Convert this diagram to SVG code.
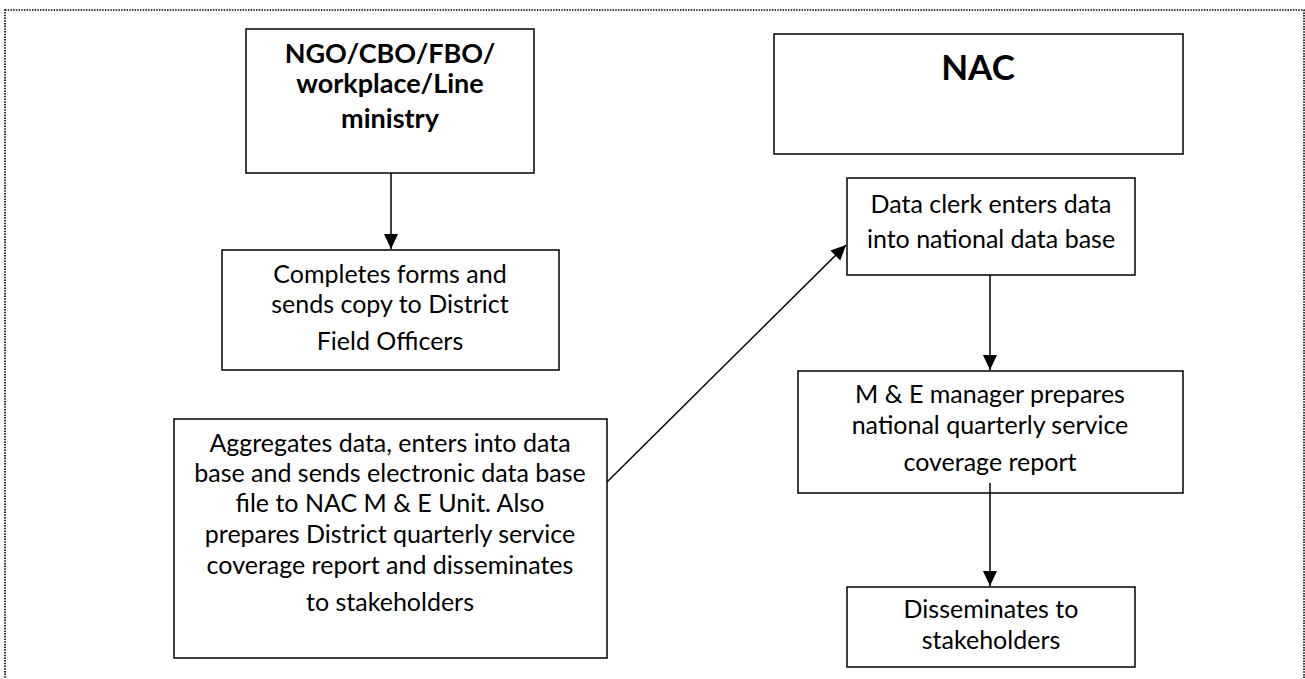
<svg xmlns="http://www.w3.org/2000/svg" width="1305" height="679" viewBox="0 0 1305 679">
<style>
.box{fill:#fff;stroke:#000;stroke-width:1.5}
.t{font-family:Lato,"Open Sans","Liberation Sans",sans-serif;font-size:25px;fill:#000;text-anchor:middle}
.b{font-family:Lato,"Open Sans","Liberation Sans",sans-serif;font-weight:bold;font-size:27px;fill:#000;text-anchor:middle}
.c{stroke:#000;stroke-width:1.5;fill:none;marker-end:url(#ah)}
</style>
<defs>
<marker id="ah" markerUnits="userSpaceOnUse" markerWidth="16" markerHeight="16" viewBox="0 0 16 16" refX="15" refY="8" orient="auto">
<path d="M0,1 L15,8 L0,15 Z" fill="#000"/>
</marker>
</defs>
<rect x="5" y="10" width="1299" height="690" fill="none" stroke="#000" stroke-width="1.6" stroke-dasharray="1.5 1.2"/>
<g id="ngo">
<rect class="box" x="246" y="29" width="288" height="144"/>
<text class="b" x="390" y="63">NGO/CBO/FBO/</text>
<text class="b" x="390" y="93">workplace/Line</text>
<text class="b" x="390" y="128">ministry</text>
</g>
<g id="completes">
<rect class="box" x="222" y="250" width="337" height="120"/>
<text class="t" x="390" y="283">Completes forms and</text>
<text class="t" x="390" y="313">sends copy to District</text>
<text class="t" x="390" y="350">Field Officers</text>
</g>
<g id="aggregates">
<rect class="box" x="174" y="419" width="433" height="239"/>
<text class="t" x="390" y="452">Aggregates data, enters into data</text>
<text class="t" x="390" y="482">base and sends electronic data base</text>
<text class="t" x="390" y="512">file to NAC M &amp; E Unit. Also</text>
<text class="t" x="390" y="543">prepares District quarterly service</text>
<text class="t" x="390" y="574">coverage report and disseminates</text>
<text class="t" x="390" y="611">to stakeholders</text>
</g>
<g id="nac">
<rect class="box" x="774" y="34" width="409" height="120"/>
<text class="b" x="978" y="80" style="font-size:35px">NAC</text>
</g>
<g id="clerk">
<rect class="box" x="847" y="178" width="288" height="97"/>
<text class="t" x="991" y="213">Data clerk enters data</text>
<text class="t" x="991" y="248">into national data base</text>
</g>
<g id="manager">
<rect class="box" x="798" y="371" width="385" height="122"/>
<text class="t" x="990" y="403">M &amp; E manager prepares</text>
<text class="t" x="990" y="434">national quarterly service</text>
<text class="t" x="990" y="471">coverage report</text>
</g>
<g id="disseminate">
<rect class="box" x="847" y="587" width="288" height="80"/>
<text class="t" x="991" y="618">Disseminates to</text>
<text class="t" x="991" y="649">stakeholders</text>
</g>
<g id="connectors">
<line class="c" x1="391" y1="173" x2="391" y2="249"/>
<line class="c" x1="607" y1="482" x2="846" y2="245"/>
<line class="c" x1="990" y1="275" x2="990" y2="370"/>
<line class="c" x1="990" y1="483" x2="990" y2="586"/>
</g>
</svg>
